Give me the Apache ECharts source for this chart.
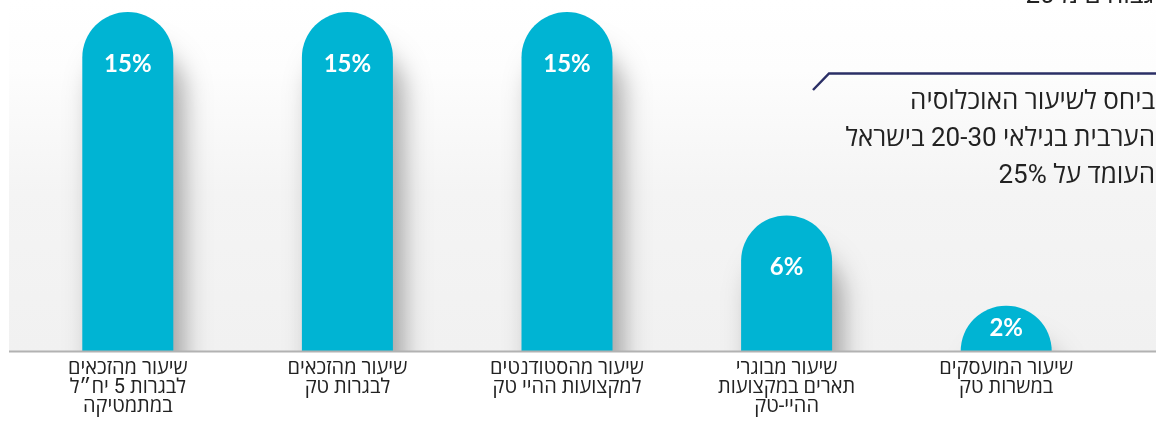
<!DOCTYPE html>
<html lang="he">
<head>
<meta charset="utf-8">
<title>שיעורי ייצוג בהייטק</title>
<script src="https://cdn.jsdelivr.net/npm/echarts@6/dist/echarts.min.js"></script>
<style>
  html, body { margin: 0; padding: 0; background: #ffffff; }
  #chart { width: 1156px; height: 421px; }
</style>
</head>
<body>
<div id="chart"></div>
<script>
// Categories (left to right) and their rates in percent
const categories = [
  'שיעור מהזכאים\nלבגרות 5 יח״ל\nבמתמטיקה',
  'שיעור מהזכאים\nלבגרות טק',
  'שיעור מהסטודנטים\nלמקצועות ההיי טק',
  'שיעור מבוגרי\nתארים במקצועות\nההיי-טק',
  'שיעור המועסקים\nבמשרות טק'
];
const values = [15, 15, 15, 6, 2];

// Side note on the population share
const noteLines = [
  'ביחס לשיעור האוכלוסיה',
  'הערבית בגילאי 20-30 בישראל',
  'העומד על 25%'
];
const headLine = 'גבוהים מ-20';

const BAR_COLOR = '#00b4d3';
const TEXT_FONT = 'Roboto, "Open Sans", "Liberation Sans", "DejaVu Sans", sans-serif';
const NOTE_SIZE = 26;
const NOTE_LINE = 37;
const NOTE_TOP = 89;

const chart = echarts.init(document.getElementById('chart'), null, { renderer: 'canvas' });

// Short bars keep their value label centred, tall bars carry it near the cap
const barData = values.map(v => ({
  value: v,
  label: v < 4 ? { position: 'inside' } : { position: 'insideTop', distance: 40 }
}));

// One right-aligned text element per note line
const noteTexts = noteLines.map((line, i) => ({
  type: 'text',
  z: 6,
  right: 1,
  top: NOTE_TOP + i * NOTE_LINE,
  style: {
    text: line,
    font: NOTE_SIZE + 'px ' + TEXT_FONT,
    fill: '#222222'
  }
}));

chart.setOption({
  animation: false,
  backgroundColor: '#ffffff',
  grid: { left: 18, right: 40, top: 12, bottom: 70, containLabel: false },
  xAxis: {
    type: 'category',
    data: categories,
    z: 10,
    axisLine: { show: false },
    axisTick: { show: false },
    axisLabel: {
      interval: 0,
      margin: 8,
      color: '#222222',
      fontSize: 20,
      lineHeight: 19,
      fontFamily: TEXT_FONT
    }
  },
  yAxis: {
    type: 'value',
    min: 0,
    max: 15,
    show: false,
    splitLine: { show: false }
  },
  graphic: [
    {
      // soft grey panel behind the bars
      type: 'rect',
      z: -5,
      silent: true,
      shape: { x: 9, y: 0, width: 1147, height: 351 },
      style: {
        fill: new echarts.graphic.LinearGradient(0, 0, 0, 1, [
          { offset: 0, color: '#ffffff' },
          { offset: 0.2, color: '#fdfdfd' },
          { offset: 0.55, color: '#f4f4f4' },
          { offset: 1, color: '#f1f1f1' }
        ])
      }
    },
    {
      // white strip under the baseline so bar shadows stop there
      type: 'rect',
      z: 5,
      silent: true,
      shape: { x: 0, y: 352, width: 1156, height: 69 },
      style: { fill: '#ffffff' }
    },
    {
      type: 'line',
      z: 6,
      silent: true,
      shape: { x1: 9, y1: 351.5, x2: 1156, y2: 351.5 },
      style: { stroke: '#b2b2b2', lineWidth: 2 }
    },
    {
      type: 'polyline',
      z: 6,
      silent: true,
      shape: { points: [[813, 90], [829, 73.5], [1156, 73.5]] },
      style: { stroke: '#2b2f66', lineWidth: 2.5, fill: null }
    },
    ...noteTexts,
    {
      type: 'text',
      z: 6,
      right: 2,
      top: -17,
      style: {
        text: headLine,
        font: NOTE_SIZE + 'px ' + TEXT_FONT,
        fill: '#222222'
      }
    }
  ],
  series: [
    {
      type: 'bar',
      data: barData,
      barWidth: 91,
      itemStyle: {
        color: BAR_COLOR,
        borderRadius: [45.5, 45.5, 0, 0],
        shadowColor: 'rgba(0, 0, 0, 0.34)',
        shadowBlur: 26,
        shadowOffsetX: 10,
        shadowOffsetY: 36
      },
      label: {
        show: true,
        formatter: '{c}%',
        color: '#ffffff',
        fontFamily: 'Lato, "Open Sans", sans-serif',
        fontWeight: 'bold',
        fontSize: 24
      }
    }
  ]
});
</script>
</body>
</html>
